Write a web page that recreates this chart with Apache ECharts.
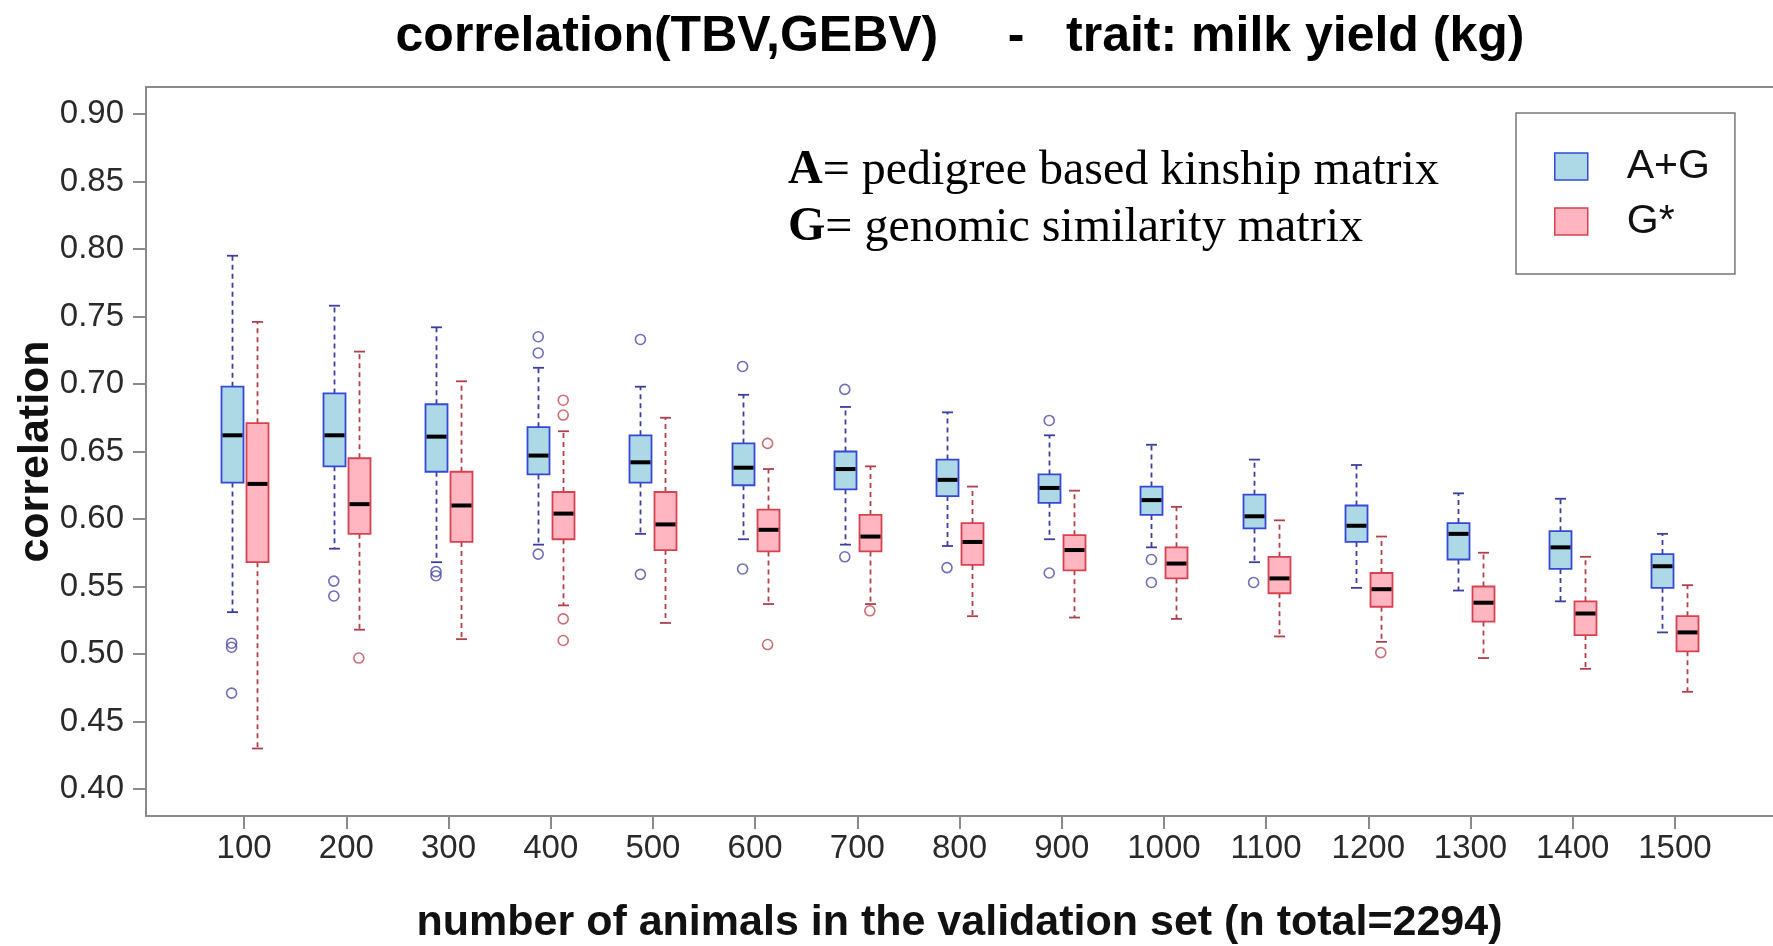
<!DOCTYPE html>
<html>
<head>
<meta charset="utf-8">
<script src="https://cdn.jsdelivr.net/npm/echarts@6/dist/echarts.min.js"></script>
<style>
  html, body { margin: 0; padding: 0; background: #ffffff; }
  #chart { width: 1773px; height: 946px; }
</style>
</head>
<body>
<div id="chart"></div>
<script>
// Size of the validation set (number of animals)
const sizes = [100, 200, 300, 400, 500, 600, 700, 800, 900, 1000, 1100, 1200, 1300, 1400, 1500];

// Box statistics per size: [lower whisker, Q1, median, Q3, upper whisker]
const agStats = [
  [0.531, 0.627, 0.662, 0.698, 0.795],
  [0.578, 0.639, 0.662, 0.693, 0.758],
  [0.568, 0.635, 0.661, 0.685, 0.742],
  [0.581, 0.633, 0.647, 0.668, 0.712],
  [0.589, 0.627, 0.642, 0.662, 0.698],
  [0.585, 0.625, 0.638, 0.656, 0.692],
  [0.581, 0.622, 0.637, 0.650, 0.683],
  [0.580, 0.617, 0.629, 0.644, 0.679],
  [0.585, 0.612, 0.623, 0.633, 0.662],
  [0.579, 0.603, 0.614, 0.624, 0.655],
  [0.568, 0.593, 0.602, 0.618, 0.644],
  [0.549, 0.583, 0.595, 0.610, 0.640],
  [0.547, 0.570, 0.589, 0.597, 0.619],
  [0.539, 0.563, 0.579, 0.591, 0.615],
  [0.516, 0.549, 0.565, 0.574, 0.589]
];

const gStats = [
  [0.430, 0.568, 0.626, 0.671, 0.746],
  [0.518, 0.589, 0.611, 0.645, 0.724],
  [0.511, 0.583, 0.610, 0.635, 0.702],
  [0.536, 0.585, 0.604, 0.620, 0.665],
  [0.523, 0.577, 0.596, 0.620, 0.675],
  [0.537, 0.576, 0.592, 0.607, 0.637],
  [0.537, 0.576, 0.587, 0.603, 0.639],
  [0.528, 0.566, 0.583, 0.597, 0.624],
  [0.527, 0.562, 0.577, 0.588, 0.621],
  [0.526, 0.556, 0.567, 0.579, 0.609],
  [0.513, 0.545, 0.556, 0.572, 0.599],
  [0.509, 0.535, 0.548, 0.560, 0.587],
  [0.497, 0.524, 0.538, 0.550, 0.575],
  [0.489, 0.514, 0.530, 0.539, 0.572],
  [0.472, 0.502, 0.516, 0.528, 0.551]
];

// Outlying replicates: [size, correlation]
const agOutliers = [
  [100, 0.508], [100, 0.505], [100, 0.471],
  [200, 0.554], [200, 0.543],
  [300, 0.561], [300, 0.558],
  [400, 0.735], [400, 0.723], [400, 0.574],
  [500, 0.733], [500, 0.559],
  [600, 0.713], [600, 0.563],
  [700, 0.696], [700, 0.572],
  [800, 0.564],
  [900, 0.673], [900, 0.560],
  [1000, 0.570], [1000, 0.553],
  [1100, 0.553]
];

const gOutliers = [
  [200, 0.497],
  [400, 0.688], [400, 0.677], [400, 0.526], [400, 0.510],
  [600, 0.656], [600, 0.507],
  [700, 0.532],
  [1200, 0.501]
];

const xTicks = [100, 200, 300, 400, 500, 600, 700, 800, 900, 1000, 1100, 1200, 1300, 1400, 1500];
const yTicks = [0.40, 0.45, 0.50, 0.55, 0.60, 0.65, 0.70, 0.75, 0.80, 0.85, 0.90];

const seriesNames = ['A+G', 'G*'];

// Styling
const BOX_W = 22;
const SHIFT = 12.5;
const AXIS_GREY = '#8a8a8a';
const SANS = '"Liberation Sans", Arial, Helvetica, sans-serif';
const SERIF = '"Liberation Serif", "Times New Roman", serif';
const palette = {
  ag: { fill: '#add8e6', stroke: '#3548d8', whisker: '#3b3f9e' },
  g:  { fill: '#ffb6c1', stroke: '#d8414f', whisker: '#b0404a' }
};

function toRows(stats) {
  return sizes.map((s, i) => [s].concat(stats[i]));
}

// Draws one box-and-whisker glyph, shifted sideways from the tick position
function boxRenderer(shift, colors) {
  return function (params, api) {
    const x = api.value(0);
    const lo = api.coord([x, api.value(1)]);
    const q1 = api.coord([x, api.value(2)]);
    const md = api.coord([x, api.value(3)]);
    const q3 = api.coord([x, api.value(4)]);
    const hi = api.coord([x, api.value(5)]);
    const cx = Math.round(lo[0] + shift) + 0.5;
    const half = BOX_W / 2;
    const cap = BOX_W / 4;
    const dashStyle = { stroke: colors.whisker, lineWidth: 1.8, lineDash: [5, 4] };
    const capStyle = { stroke: colors.whisker, lineWidth: 1.8 };
    return {
      type: 'group',
      children: [
        { type: 'line', shape: { x1: cx, y1: q3[1], x2: cx, y2: hi[1] }, style: dashStyle },
        { type: 'line', shape: { x1: cx, y1: q1[1], x2: cx, y2: lo[1] }, style: dashStyle },
        { type: 'line', shape: { x1: cx - cap, y1: hi[1], x2: cx + cap, y2: hi[1] }, style: capStyle },
        { type: 'line', shape: { x1: cx - cap, y1: lo[1], x2: cx + cap, y2: lo[1] }, style: capStyle },
        {
          type: 'rect',
          shape: { x: cx - half, y: q3[1], width: BOX_W, height: q1[1] - q3[1] },
          style: { fill: colors.fill, stroke: colors.stroke, lineWidth: 1.8 }
        },
        {
          type: 'line',
          shape: { x1: cx - half + 1, y1: md[1], x2: cx + half - 1, y2: md[1] },
          style: { stroke: '#000000', lineWidth: 4 }
        }
      ]
    };
  };
}

const chart = echarts.init(document.getElementById('chart'), null, { renderer: 'canvas' });

const option = {
  animation: false,
  backgroundColor: '#ffffff',
  grid: { left: 146, right: 0, top: 87, bottom: 130, outerBoundsMode: 'none', containLabel: false },
  legend: {
    orient: 'vertical',
    left: 1516,
    top: 113,
    padding: [33, 25, 32, 38],
    borderColor: '#777777',
    borderWidth: 1.5,
    itemWidth: 33,
    itemHeight: 27,
    itemGap: 14,
    selectedMode: false,
    textStyle: { fontFamily: SANS, fontSize: 41, color: '#111111', lineHeight: 40, padding: [0, 0, 0, 34] },
    data: [
      { name: 'A+G', icon: 'rect', itemStyle: { color: palette.ag.fill, borderColor: palette.ag.stroke, borderWidth: 1.5 } },
      { name: 'G*', icon: 'rect', itemStyle: { color: palette.g.fill, borderColor: palette.g.stroke, borderWidth: 1.5 } }
    ]
  },
  xAxis: [
    {
      type: 'value',
      min: 4,
      max: 1596,
      name: 'number of animals in the validation set (n total=2294)',
      nameLocation: 'middle',
      nameGap: 86,
      nameTextStyle: { fontFamily: SANS, fontSize: 43, fontWeight: 'bold', color: '#111111' },
      splitLine: { show: false },
      axisLine: { show: true, lineStyle: { color: AXIS_GREY, width: 2 } },
      axisTick: { show: true, length: 13, lineStyle: { color: AXIS_GREY, width: 2 }, customValues: xTicks },
      axisLabel: {
        fontFamily: SANS, fontSize: 33, color: '#2a2a2a', margin: 16,
        customValues: xTicks,
        formatter: v => String(v)
      }
    },
    {
      type: 'value',
      position: 'top',
      min: 4,
      max: 1596,
      splitLine: { show: false },
      axisLine: { show: true, lineStyle: { color: AXIS_GREY, width: 2 } },
      axisTick: { show: false },
      axisLabel: { show: false }
    }
  ],
  yAxis: {
    type: 'value',
    min: 0.38,
    max: 0.92,
    name: 'correlation',
    nameLocation: 'middle',
    nameGap: 88,
    nameMoveOverlap: false,
    nameTextStyle: { fontFamily: SANS, fontSize: 43, fontWeight: 'bold', color: '#111111' },
    splitLine: { show: false },
    axisLine: { show: true, lineStyle: { color: AXIS_GREY, width: 2 } },
    axisTick: { show: true, length: 13, lineStyle: { color: AXIS_GREY, width: 2 }, customValues: yTicks },
    axisLabel: {
      fontFamily: SANS, fontSize: 33, color: '#2a2a2a', margin: 22,
      customValues: yTicks,
      formatter: v => Number(v).toFixed(2)
    }
  },
  graphic: [
    {
      type: 'text',
      x: 960,
      y: 37,
      style: {
        text: 'correlation(TBV,GEBV)     -   trait: milk yield (kg)',
        fontFamily: SANS, fontSize: 50, fontWeight: 'bold',
        fill: '#000000', align: 'center', verticalAlign: 'middle'
      }
    },
    {
      type: 'text',
      x: 788,
      y: 171,
      style: {
        text: '{b|A}{n|= pedigree based kinship matrix}',
        fontFamily: SERIF, fontSize: 48, fill: '#000000', verticalAlign: 'middle',
        rich: {
          b: { fontFamily: SERIF, fontSize: 48, fontWeight: 'bold', fill: '#000000' },
          n: { fontFamily: SERIF, fontSize: 48, fill: '#000000' }
        }
      }
    },
    {
      type: 'text',
      x: 788,
      y: 228,
      style: {
        text: '{b|G}{n|= genomic similarity matrix}',
        fontFamily: SERIF, fontSize: 48, fill: '#000000', verticalAlign: 'middle',
        rich: {
          b: { fontFamily: SERIF, fontSize: 48, fontWeight: 'bold', fill: '#000000' },
          n: { fontFamily: SERIF, fontSize: 48, fill: '#000000' }
        }
      }
    }
  ],
  series: [
    {
      name: seriesNames[0],
      type: 'custom',
      renderItem: boxRenderer(-SHIFT, palette.ag),
      itemStyle: { color: palette.ag.fill, borderColor: palette.ag.stroke },
      encode: { x: 0, y: [1, 2, 3, 4, 5] },
      data: toRows(agStats),
      z: 3
    },
    {
      name: seriesNames[1],
      type: 'custom',
      renderItem: boxRenderer(SHIFT, palette.g),
      itemStyle: { color: palette.g.fill, borderColor: palette.g.stroke },
      encode: { x: 0, y: [1, 2, 3, 4, 5] },
      data: toRows(gStats),
      z: 3
    },
    {
      name: 'A+G outliers',
      type: 'scatter',
      symbol: 'circle',
      symbolSize: 10,
      symbolOffset: [-SHIFT, 0],
      itemStyle: { color: 'rgba(255,255,255,0)', borderColor: '#4a4aa8', borderWidth: 1.6 },
      data: agOutliers,
      z: 4
    },
    {
      name: 'G* outliers',
      type: 'scatter',
      symbol: 'circle',
      symbolSize: 10,
      symbolOffset: [SHIFT, 0],
      itemStyle: { color: 'rgba(255,255,255,0)', borderColor: '#c04a52', borderWidth: 1.6 },
      data: gOutliers,
      z: 4
    }
  ]
};

chart.setOption(option);
</script>
</body>
</html>
